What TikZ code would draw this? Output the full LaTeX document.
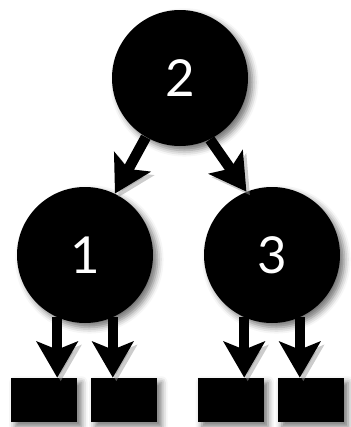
\documentclass[tikz,border=0pt]{standalone}
\usepackage{fontspec}
\setsansfont{Lato}
\usepackage{tikz}
\usetikzlibrary{arrows.meta,positioning,shadows.blur}

\begin{document}
\begin{tikzpicture}[
    node distance=3cm,
    vertex/.style={circle, fill=black, minimum size=2.72cm, inner sep=0pt,
        text=white, font=\sffamily\fontsize{29}{30}\selectfont,
        blur shadow={shadow xshift=2.5pt, shadow yshift=-2.5pt, shadow blur radius=3.5pt,
            shadow opacity=55}},
    leaf/.style={rectangle, fill=black, minimum width=1.32cm, minimum height=0.88cm,
        inner sep=0pt,
        blur shadow={shadow xshift=2.5pt, shadow yshift=-2.5pt, shadow blur radius=3.5pt,
            shadow opacity=55}},
    edge/.style={line width=6pt, -{Stealth[length=7.2mm, width=8.2mm, inset=1.6mm]},
        preaction={draw=black!40, opacity=.5,
            transform canvas={shift={(2pt,-2pt)}}}}
]
\useasboundingbox (0,0) rectangle (7,-8.54);

% tree nodes
\node[vertex] (n2) at (3.6,-1.56) {2};
\node[vertex, on grid, below left=3.54cm and 1.9cm of n2] (n1) {1};
\node[vertex, on grid, below right=3.54cm and 1.84cm of n2] (n3) {3};

% empty leaves
\node[leaf, on grid, below left=2.9cm and 0.82cm of n1] (b1) {};
\node[leaf, on grid, below right=2.9cm and 0.78cm of n1] (b2) {};
\node[leaf, on grid, below left=2.9cm and 0.83cm of n3] (b3) {};
\node[leaf, on grid, below right=2.9cm and 0.77cm of n3] (b4) {};

\draw[edge] (n2.240) -- (n1.64);
\draw[edge] (n2.296) -- (n3.112);
\draw[edge] (n1.-114) -- (n1.-114 |- b1.north);
\draw[edge] (n1.-66) -- (n1.-66 |- b2.north);
\draw[edge] (n3.-114) -- (n3.-114 |- b3.north);
\draw[edge] (n3.-66) -- (n3.-66 |- b4.north);
\end{tikzpicture}
\end{document}
